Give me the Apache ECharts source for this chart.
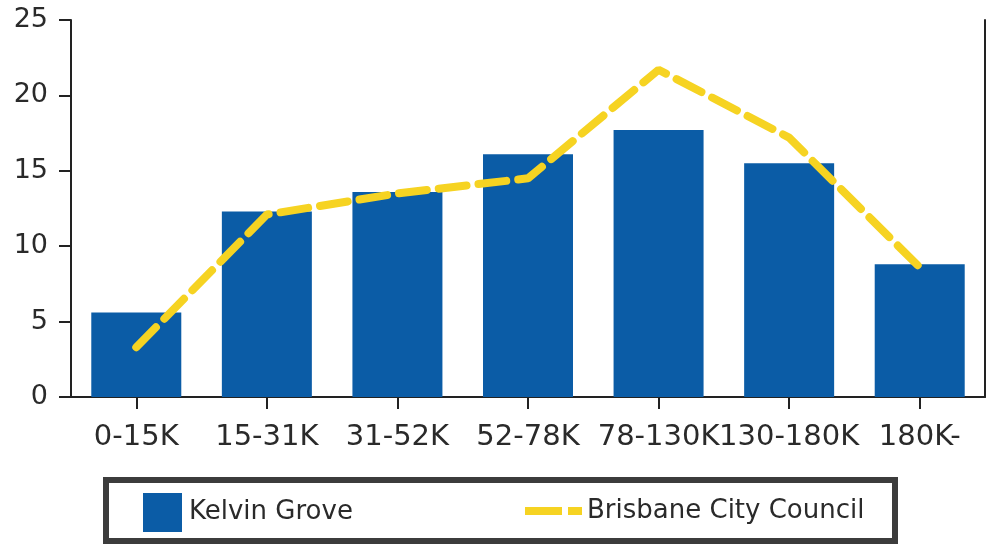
<!DOCTYPE html>
<html>
<head>
<meta charset="utf-8">
<script src="https://cdn.jsdelivr.net/npm/echarts@6/dist/echarts.min.js"></script>
<style>html,body{margin:0;padding:0;background:#fff}#c{width:988px;height:545px}</style>
</head>
<body>
<div id="c"></div>
<script>
var categories = ['0-15K', '15-31K', '31-52K', '52-78K', '78-130K', '130-180K', '180K-'];
var kelvinGrove = [5.6, 12.3, 13.6, 16.1, 17.7, 15.5, 8.8];
var brisbaneCC = [3.3, 12.1, 13.5, 14.5, 21.7, 17.2, 8.6];
var yTicks = [0, 5, 10, 15, 20, 25];

var FONT = 'DejaVu Sans';
var chart = echarts.init(document.getElementById('c'), null, {renderer: 'canvas'});
chart.setOption({
  animation: false,
  backgroundColor: '#ffffff',
  grid: {left: 71, right: 3, top: 20, bottom: 148, containLabel: false},
  xAxis: {
    type: 'category',
    data: categories,
    axisLine: {lineStyle: {color: '#222', width: 2}},
    axisTick: {show: true, alignWithLabel: true, length: 12, lineStyle: {color: '#222', width: 2}},
    axisLabel: {interval: 0, color: '#2a2a2a', fontFamily: FONT, fontSize: 29, margin: 26, hideOverlap: false}
  },
  yAxis: [{
    type: 'value',
    min: yTicks[0], max: yTicks[yTicks.length - 1], interval: 5,
    axisLine: {show: true, lineStyle: {color: '#222', width: 2}},
    axisTick: {show: true, length: 12, lineStyle: {color: '#222', width: 2}},
    axisLabel: {color: '#2a2a2a', fontFamily: FONT, fontSize: 27, margin: 23},
    splitLine: {show: false}
  }, {
    type: 'value', position: 'right',
    min: yTicks[0], max: yTicks[yTicks.length - 1], interval: 5,
    axisLine: {show: true, lineStyle: {color: '#222', width: 2}},
    axisTick: {show: false}, axisLabel: {show: false}, splitLine: {show: false}
  }],
  legend: [{
    data: ['Kelvin Grove'],
    left: 143, top: 493,
    itemWidth: 39, itemHeight: 39, itemGap: 12,
    icon: 'rect',
    textStyle: {fontFamily: FONT, fontSize: 26, color: '#2a2a2a', padding: [0, 0, 0, 2]},
    padding: 0
  }, {
    data: [{
      name: 'Brisbane City Council',
      icon: 'path://M0,0 L37,0 L37,8 L0,8 Z M43,0 L57,0 L57,8 L43,8 Z',
      itemStyle: {color: '#f6d322'}
    }],
    left: 525, top: 494,
    itemWidth: 57, itemHeight: 8, itemGap: 10,
    textStyle: {fontFamily: FONT, fontSize: 26, color: '#2a2a2a', lineHeight: 34},
    padding: 0
  }],
  graphic: [{
    type: 'rect',
    shape: {x: 106, y: 480, width: 789, height: 61},
    style: {fill: 'none', stroke: '#3c3c3c', lineWidth: 6},
    silent: true
  }],
  series: [{
    name: 'Kelvin Grove',
    type: 'bar',
    data: kelvinGrove,
    barWidth: 90,
    itemStyle: {color: '#0b5ca6'}
  }, {
    name: 'Brisbane City Council',
    type: 'line',
    data: brisbaneCC,
    symbol: 'none',
    z: 5,
    itemStyle: {color: '#f6d322'},
    lineStyle: {color: '#f6d322', width: 8, type: [28, 12], cap: 'round'}
  }]
});
</script>
</body>
</html>
